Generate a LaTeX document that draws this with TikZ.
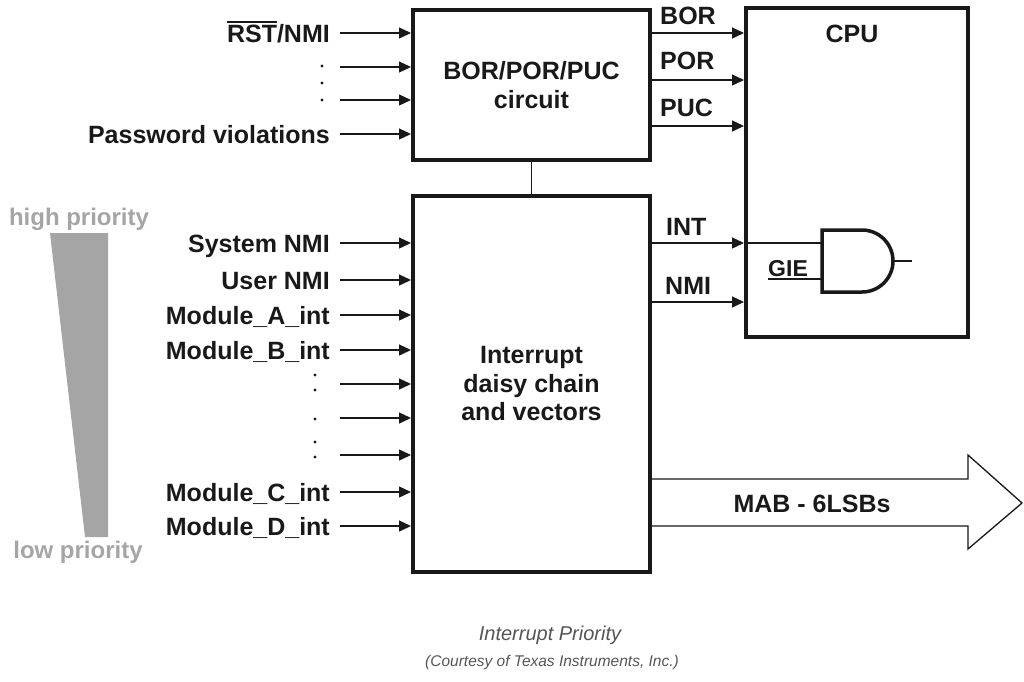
\documentclass[tikz,border=0pt]{standalone}
\usepackage{fontspec}
\setmainfont{Liberation Sans}
\usepackage{tikz}
\usetikzlibrary{calc}
\usetikzlibrary{arrows.meta}
\definecolor{ink}{RGB}{25, 25, 25}
\definecolor{prio}{RGB}{165, 165, 165}
\definecolor{captiongray}{RGB}{85, 85, 85}
\newcommand{\barred}[1]{\leavevmode\vbox{\hrule height 1.8pt\kern 2pt\hbox{#1}}}

\tikzset{
  block/.style={draw=ink, line width=4pt, inner sep=0pt, align=center,
                font=\fontsize{25}{28.5}\selectfont\bfseries, text=ink},
  sig/.style={draw=ink, line width=1.3pt, -{Triangle[length=12pt,width=11pt]}},
  wire/.style={draw=ink, line width=1.3pt},
  lbl/.style={font=\fontsize{25}{28}\selectfont\bfseries, text=ink, inner sep=0pt,
              text height=18pt, text depth=0pt},
}

\begin{document}
\begin{tikzpicture}[x=1pt,y=-1pt]
        \useasboundingbox (0,0) rectangle (1024,681);
        % blocks
        \node[block, minimum width=237pt, minimum height=150pt] (bor)  at (531.5, 85.0) {BOR/POR/PUC\\circuit};
        \node[block, minimum width=237pt, minimum height=376pt] (intr) at (531.5,384.0) {Interrupt\\daisy chain\\and vectors};
        \node[block, minimum width=222pt, minimum height=329pt] (cpu)  at (857.0,172.5) {};
        \node[lbl] (cpulbl) at (852,33) {CPU};
        \draw[ink, line width=1.3pt] (bor.south) -- (intr.north);
        % reset inputs
        \node[lbl, anchor=east] (rst) at (330, 33) {\barred{RST}/NMI};
        \node[lbl, anchor=east] (pwd) at (330,134) {Password violations};
        \coordinate (rdot1) at (340, 67);
        \coordinate (rdot2) at (340,100);
        \draw[sig] ([xshift=10pt]rst.east) -- (rst.east -| bor.west);
        \draw[sig] ([xshift=10pt]pwd.east) -- (pwd.east -| bor.west);
        \draw[sig] (rdot1) -- (rdot1 -| bor.west);
        \draw[sig] (rdot2) -- (rdot2 -| bor.west);
        \foreach \y in {66,83,100}
            \fill[ink] (322,\y) circle (1.6pt);
        % interrupt inputs
        \foreach \y/\txt in {243/System NMI, 280/User NMI, 315/Module\_A\_int,
                             350/Module\_B\_int, 492/Module\_C\_int, 526/Module\_D\_int}{
            \node[lbl, anchor=east] (in\y) at (330,\y) {\txt};
            \draw[sig] ([xshift=10pt]in\y.east) -- (in\y.east -| intr.west);
        }
        \foreach \y in {384,418,455}{
            \coordinate (idot\y) at (340,\y);
            \draw[sig] (idot\y) -- (idot\y -| intr.west);
        }
        \foreach \y in {375,390,419,442,457}
            \fill[ink] (315,\y) circle (1.6pt);
        % reset outputs
        \foreach \y/\ly/\txt in {33/15/BOR, 80/60/POR, 126/107/PUC}{
            \node[lbl, anchor=west] (out\txt) at (660,\ly) {\txt};
            \draw[sig] (bor.east |- 0,\y) -- (cpu.west |- 0,\y);
        }
        % interrupt outputs
        \node[lbl, anchor=west] (intlbl) at (666,226) {INT};
        \node[lbl, anchor=west] (nmilbl) at (665,285) {NMI};
        \coordinate (gA)   at (822,243);
        \coordinate (gB)   at (822,279);
        \coordinate (gY)   at (893,261);
        \coordinate (gYo)  at (912,261);
        \coordinate (gie)  at (768,279);
        \draw[sig]  (intr.east |- gA) -- (cpu.west |- gA);
        \draw[wire] (cpu.west |- gA) -- (gA);
        \draw[sig]  (intr.east |- 0,302) -- (cpu.west |- 0,302);
        % AND gate
        \draw[ink, line width=3.5pt] (822,230) -- (862,230) arc (-90:90:31) -- (822,292) -- cycle;
        \draw[wire] (gie) -- (gB);
        \draw[wire] (gY) -- (gYo);
        \node[lbl, font=\fontsize{23}{26}\selectfont\bfseries, text height=16.5pt, anchor=west] (gielbl) at (768,268) {GIE};
        % address bus arrow
        \draw[ink, line width=1.3pt, line join=miter]
            (intr.east |- 0,479) -- (968,479) -- (968,455) -- (1022,503)
            -- (968,549) -- (968,526) -- (intr.east |- 0,526);
        \node[lbl] (mab) at (812,503) {MAB - 6LSBs};
        % priority wedge
        \fill[prio] (50,233) -- (108,233) -- (108,537) -- (85,537) -- cycle;
        \node[lbl, text=prio, font=\fontsize{24}{27}\selectfont\bfseries, text height=17.3pt] (hi) at (79,217) {high priority};
        \node[lbl, text=prio, font=\fontsize{24}{27}\selectfont\bfseries, text height=17.3pt] (lo) at (78,550) {low priority};
        % caption
        \node[font=\fontsize{20}{24}\selectfont\itshape, text=captiongray] (cap)   at (550,635) {Interrupt Priority};
        \node[font=\fontsize{15.5}{18}\selectfont\itshape, text=captiongray] (court) at (552,662) {(Courtesy of Texas Instruments, Inc.)};
\end{tikzpicture}
\end{document}
